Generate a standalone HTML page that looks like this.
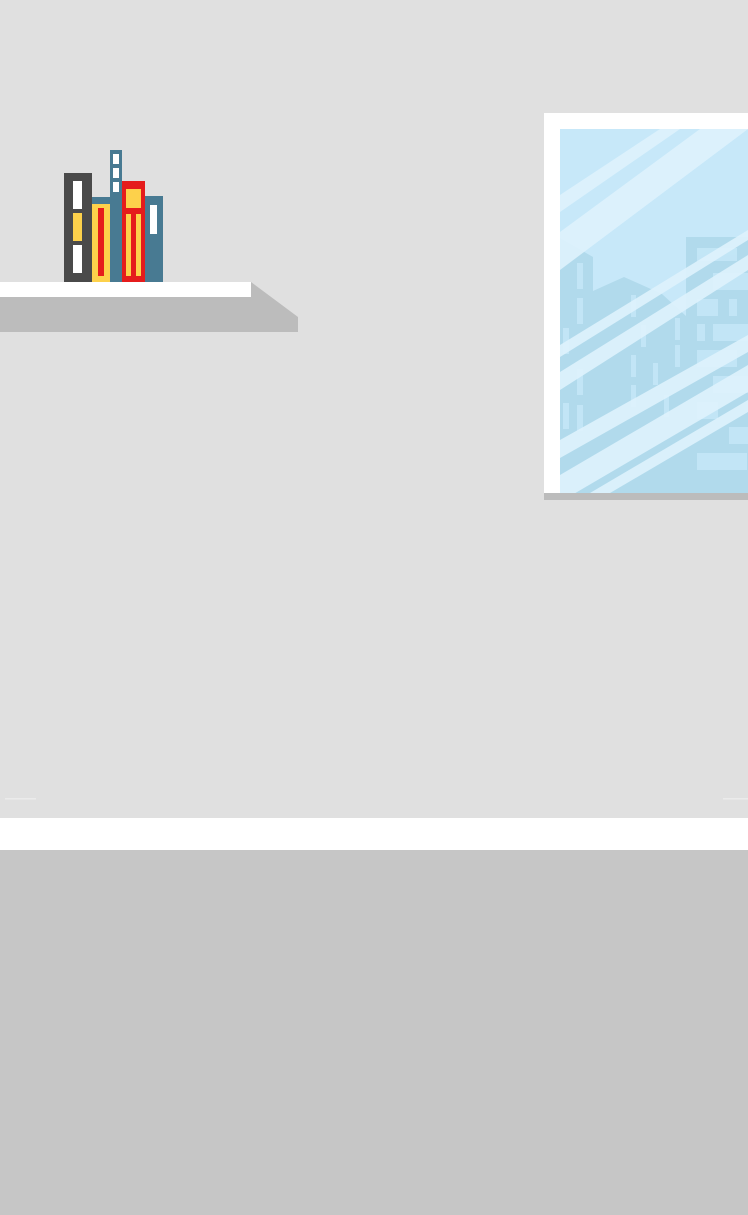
<!DOCTYPE html>
<html><head><meta charset="utf-8"><style>
html,body{margin:0;padding:0;width:748px;height:1215px;overflow:hidden;background:#e0e0e0;font-family:"Liberation Sans",sans-serif}
svg{display:block}
</style></head><body>
<svg width="748" height="1215" viewBox="0 0 748 1215">
<rect x="0" y="0" width="748" height="1215" fill="#e0e0e0"/>
<!-- shelf -->
<g>
<polygon points="0,297 251,297 251,282 298,317 298,332 0,332" fill="#bcbcbc"/>
<rect x="0" y="282" width="251" height="15" fill="#ffffff"/>
</g>
<!-- books -->
<g>
<rect x="64" y="173" width="28" height="109" fill="#4a4a4a"/>
<rect x="73" y="181" width="9" height="28" fill="#ffffff"/>
<rect x="73" y="213" width="9" height="28" fill="#fdd14b"/>
<rect x="73" y="245" width="9" height="28" fill="#ffffff"/>
<rect x="92" y="197" width="18" height="85" fill="#487a92"/>
<rect x="92" y="204" width="18" height="78" fill="#fdd14b"/>
<rect x="98" y="208" width="6" height="68" fill="#e51c1c"/>
<rect x="110" y="150" width="12" height="132" fill="#487a92"/>
<rect x="113" y="154" width="6" height="10" fill="#ffffff"/>
<rect x="113" y="168" width="6" height="10" fill="#ffffff"/>
<rect x="113" y="182" width="6" height="10" fill="#ffffff"/>
<rect x="122" y="181" width="23" height="101" fill="#e51c1c"/>
<rect x="126" y="189" width="15" height="19" fill="#fdd14b"/>
<rect x="126" y="214" width="5" height="62" fill="#fdd14b"/>
<rect x="136" y="214" width="5" height="62" fill="#fdd14b"/>
<rect x="145" y="196" width="18" height="86" fill="#487a92"/>
<rect x="150" y="205" width="7" height="29" fill="#ffffff"/>
</g>
<!-- window -->
<g>
<rect x="544" y="113" width="204" height="387" fill="#ffffff"/>
<rect x="544" y="493" width="204" height="7" fill="#bcbcbc"/>
<clipPath id="glass"><rect x="560" y="129" width="188" height="364"/></clipPath>
<g clip-path="url(#glass)">
<rect x="560" y="129" width="188" height="364" fill="#c7e8f9"/>
<g fill="#b1daec">
<polygon points="560,238 593,257 593,291 624,277 662,294 686,316 686,237 748,237 748,493 560,493"/>
</g>
<g fill="#c7e8f9" opacity="0.8">
<rect x="697" y="248" width="40" height="13"/><rect x="713" y="273" width="35" height="17"/>
<rect x="697" y="299" width="21" height="17"/><rect x="729" y="299" width="8" height="17"/>
<rect x="697" y="324" width="8" height="17"/><rect x="713" y="324" width="35" height="17"/>
<rect x="697" y="350" width="40" height="17"/><rect x="713" y="376" width="35" height="17"/>
<rect x="697" y="402" width="21" height="17"/><rect x="729" y="427" width="19" height="17"/>
<rect x="697" y="453" width="50" height="17"/>
<rect x="577" y="263" width="6" height="26"/><rect x="577" y="298" width="6" height="26"/>
<rect x="577" y="369" width="6" height="26"/><rect x="577" y="405" width="6" height="26"/>
<rect x="563" y="403" width="6" height="26"/><rect x="563" y="328" width="6" height="26"/>
<rect x="631" y="295" width="5" height="22"/><rect x="631" y="355" width="5" height="22"/>
<rect x="631" y="385" width="5" height="22"/><rect x="641" y="325" width="5" height="22"/>
<rect x="653" y="363" width="5" height="22"/><rect x="675" y="318" width="5" height="22"/>
<rect x="675" y="345" width="5" height="22"/><rect x="664" y="395" width="5" height="22"/>
</g>
<g fill="#dff3fd" opacity="0.9">
<polygon points="560,195 660,129 680,129 560,212"/>
<polygon points="560,232 700,129 748,129 560,270"/>
<polygon points="560,345 748,230 748,240 560,357"/>
<polygon points="560,372 748,255 748,270 560,390"/>
<polygon points="560,440 748,335 748,352 560,458"/>
<polygon points="560,475 748,365 748,392 560,502"/>
<polygon points="590,493 748,400 748,412 610,493"/>
</g>
</g>
</g>
<!-- baseboard highlights -->
<rect x="5" y="798" width="31" height="1.5" fill="#ebebeb"/>
<rect x="723" y="798" width="25" height="1.5" fill="#ebebeb"/>
<rect x="0" y="818" width="748" height="32" fill="#ffffff"/>
<rect x="0" y="850" width="748" height="365" fill="#c6c6c6"/>
</svg>
</body></html>
